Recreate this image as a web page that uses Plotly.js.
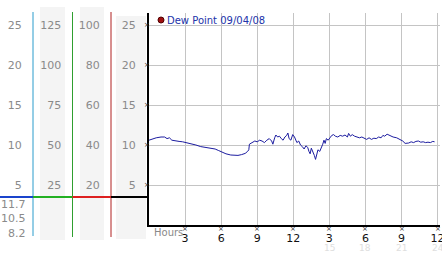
<!DOCTYPE html>
<html>
<head>
<meta charset="utf-8">
<script src="https://cdn.plot.ly/plotly-3.0.1.min.js"></script>
<style>html,body{margin:0;padding:0;background:#fff;}#chart{width:442px;height:253px;}</style>
</head>
<body>
<div id="chart"></div>
<script>
// ---- data ----
const hours = [0.0,0.3,0.6,1.0,1.3,1.5,1.7,1.9,2.2,2.5,2.8,3.1,3.5,3.9,4.3,4.7,5.1,5.5,5.8,6.1,6.4,6.8,7.1,7.4,7.7,8.0,8.2,8.3,8.35,8.6,8.8,9.0,9.2,9.4,9.6,9.8,10.0,10.2,10.3,10.45,10.55,10.7,10.85,11.0,11.15,11.3,11.45,11.55,11.65,11.8,11.95,12.1,12.2,12.3,12.45,12.6,12.75,12.9,13.05,13.2,13.3,13.4,13.5,13.6,13.75,13.85,13.95,14.05,14.2,14.3,14.45,14.55,14.65,14.75,14.9,15.05,15.2,15.35,15.5,15.7,15.9,16.1,16.3,16.5,16.6,16.75,16.9,17.1,17.3,17.5,17.7,17.9,18.1,18.3,18.5,18.7,18.9,19.1,19.3,19.45,19.6,19.8,20.0,20.3,20.6,20.9,21.1,21.3,21.6,21.8,22.0,22.2,22.4,22.6,22.8,23.0,23.2,23.4,23.6,23.75];
const dewPoint = [10.6,10.8,10.9,11.0,11.0,10.8,10.9,10.6,10.5,10.45,10.4,10.3,10.2,10.0,9.8,9.7,9.6,9.5,9.3,9.05,8.9,8.75,8.7,8.7,8.8,8.95,9.2,9.4,10.1,10.3,10.5,10.4,10.6,10.5,10.3,10.6,10.8,10.5,10.1,10.9,11.25,11.0,11.1,10.8,10.6,11.0,11.2,11.5,10.8,10.6,11.3,11.0,10.7,10.3,10.5,10.0,9.8,9.5,9.9,9.7,9.2,8.9,9.6,9.3,8.7,8.2,8.9,9.4,9.2,9.5,10.1,10.6,10.2,10.8,10.6,10.9,11.2,11.3,11.1,11.0,11.2,11.1,11.25,11.0,11.45,11.1,11.3,11.1,11.0,10.9,11.0,10.8,10.7,10.9,10.7,10.85,10.8,11.0,10.9,11.2,11.1,11.35,11.2,11.0,10.9,10.7,10.5,10.2,10.25,10.4,10.3,10.45,10.5,10.35,10.4,10.3,10.35,10.3,10.45,10.4];
const seriesName = "Dew Point 09/04/08";
const xTickVals = [3,6,9,12,15,18,21,24];
const xTickText = ["3","6","9","12","3","6","9","12"];
const xTickAlt = ["15","18","21","24"];
const xTickAltVals = [15,18,21,24];
const yTickVals = [5,10,15,20,25];
const col1Ticks = [5,10,15,20,25];
const col2Ticks = [25,50,75,100,125];
const col3Ticks = [20,40,60,80,100];
const statLabels = ["11.7","10.5","8.2"];

// ---- layout helpers (pixel geometry) ----
const W = 442, H = 253, ML = 0, MR = 2, MT = 13, MB = 28;
const PW = W - ML - MR, PH = H - MT - MB;
const px = x => (x - ML) / PW;
const py = y => (H - MB - y) / PH;
const font = "DejaVu Sans, Verdana, sans-serif";
const yMax = 26.5;

const traces = [
  {x: hours, y: dewPoint, type: 'scatter', mode: 'lines', line: {color: '#1c1ca0', width: 1}, showlegend: false, hoverinfo: 'skip'},
  {x: [null], y: [null], yaxis: 'y2', showlegend: false, hoverinfo: 'skip'},
  {x: [null], y: [null], yaxis: 'y3', showlegend: false, hoverinfo: 'skip'},
  {x: [null], y: [null], yaxis: 'y4', showlegend: false, hoverinfo: 'skip'}
];

const tickFont = {family: font, size: 11, color: '#8a8a8a'};
function sideAxis(pos, range, vals) {
  return {overlaying: 'y', anchor: 'free', position: pos, side: 'left', range: range,
    tickmode: 'array', tickvals: vals, ticktext: vals.map(String), showgrid: false, zeroline: false,
    showline: false, ticks: 'outside', ticklen: 9, tickcolor: 'rgba(0,0,0,0)', tickfont: tickFont, fixedrange: true};
}

const shapes = [];
function rect(x0, x1, y0, y1, color) {
  shapes.push({type: 'rect', xref: 'paper', yref: 'paper', x0: px(x0), x1: px(x1), y0: py(y1), y1: py(y0),
    fillcolor: color, line: {width: 0}, layer: 'below'});
}
function line(x0, y0, x1, y1, color, w) {
  shapes.push({type: 'line', xref: 'paper', yref: 'paper', x0: px(x0), x1: px(x1), y0: py(y0), y1: py(y1),
    line: {color: color, width: w}, layer: 'above'});
}
rect(40, 65, 7, 240, '#f4f4f4');
rect(80, 104, 7, 240, '#f4f4f4');
rect(116, 146, 16, 239, '#f4f4f4');
line(33, 12, 33, 236, '#2a9ccc', 1);
line(72.5, 12, 72.5, 237, '#2f9f2f', 1);
line(111, 12, 111, 237, '#b02020', 1);
line(0, 197, 33, 197, '#1a44cc', 2);
line(33, 197, 72.5, 197, '#22b022', 2);
line(72.5, 197, 111, 197, '#dd2020', 2);
line(111, 197, 149, 197, '#000000', 2);
// legend dot
shapes.push({type: 'circle', xref: 'paper', yref: 'paper', x0: px(158), x1: px(164), y0: py(23), y1: py(17),
  fillcolor: '#a01010', line: {color: '#500000', width: 1}, layer: 'above'});

const markFont = {family: font, size: 7, color: '#333'};
const annotations = [
  {xref: 'paper', yref: 'paper', x: px(165), y: py(20), xanchor: 'left', yanchor: 'middle', showarrow: false,
   text: seriesName, font: {family: font, size: 10, color: '#2233aa'}},
  {xref: 'paper', yref: 'paper', x: px(152), y: py(232), xanchor: 'left', yanchor: 'middle', showarrow: false,
   text: 'Hours', font: {family: font, size: 10, color: '#8a8a8a'}}
];
xTickAlt.forEach((t, i) => annotations.push({xref: 'x', yref: 'paper', x: xTickAltVals[i], y: py(247.5), xanchor: 'center', yanchor: 'middle',
  showarrow: false, text: t, font: {family: font, size: 9, color: '#dedede'}}));
// small "x" tick marks
xTickVals.forEach(v => annotations.push({xref: 'x', yref: 'paper', x: v, y: py(229.5), xanchor: 'center', yanchor: 'middle',
  showarrow: false, text: '×', font: markFont}));
yTickVals.forEach(v => annotations.push({xref: 'paper', yref: 'y', x: px(147), y: v, xanchor: 'center', yanchor: 'middle',
  showarrow: false, text: '×', font: markFont}));
const statY = [204, 218, 233];
statLabels.forEach((t, i) => annotations.push({xref: 'paper', yref: 'paper', x: px(28), y: py(statY[i]), xanchor: 'right', yanchor: 'middle',
  showarrow: false, text: t, font: {family: font, size: 11, color: '#8a8a8a'}}));

const layout = {
  width: W, height: H,
  margin: {l: ML, r: MR, t: MT, b: MB, pad: 0},
  paper_bgcolor: '#ffffff', plot_bgcolor: '#ffffff',
  showlegend: false,
  xaxis: {domain: [px(149), 1], range: [0, 24.2], tickmode: 'array', tickvals: xTickVals, ticktext: xTickText,
    showgrid: true, gridcolor: '#c4c4c4', gridwidth: 1, zeroline: false, showline: true, linecolor: '#000', linewidth: 2,
    ticks: 'outside', ticklen: 2, tickcolor: 'rgba(0,0,0,0)', tickfont: {family: font, size: 11, color: '#111'},
    ticklabeloverflow: 'allow', fixedrange: true},
  yaxis: {range: [0, yMax], tickmode: 'array', tickvals: yTickVals, ticktext: yTickVals.map(String),
    showgrid: true, gridcolor: '#c4c4c4', gridwidth: 1, zeroline: false, showline: true, linecolor: '#000', linewidth: 2,
    ticks: 'outside', ticklen: 9, tickcolor: 'rgba(0,0,0,0)', tickfont: tickFont, fixedrange: true},
  yaxis2: sideAxis(px(33), [0, yMax], col1Ticks),
  yaxis3: sideAxis(px(72.5), [0, yMax * 5], col2Ticks),
  yaxis4: sideAxis(px(111), [0, yMax * 4], col3Ticks),
  shapes: shapes,
  annotations: annotations
};

Plotly.newPlot('chart', traces, layout, {displayModeBar: false, staticPlot: true});
</script>
</body>
</html>
